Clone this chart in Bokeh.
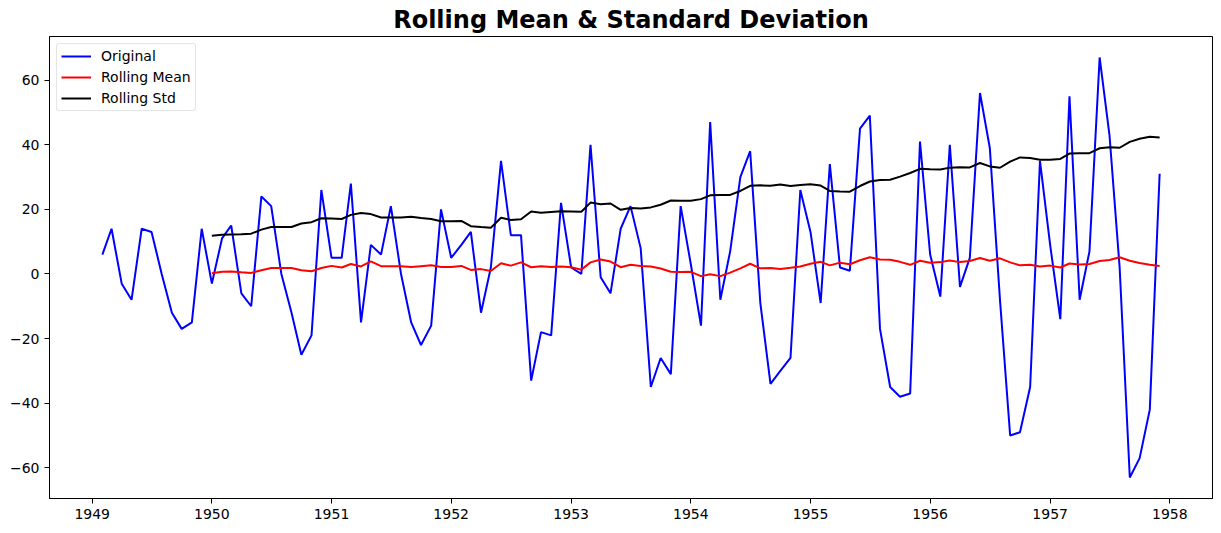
import numpy as np
import pandas as pd
from bokeh.plotting import figure
from bokeh.models import FixedTicker, DatetimeTickFormatter, Range1d, Legend, LegendItem
from bokeh.embed import file_html
from bokeh.resources import INLINE

# First-differenced monthly series, Feb 1949 .. Dec 1957
start_month = "1949-02-01"
original = [
    6, 14, -3, -8, 14, 13, 0, -12, -17, -15, 14,
    -3, 11, 15, -6, -10, 24, 21, 0, -12, -25, -19, 26,
    5, 5, 28, -15, 9, 6, 21, 0, -15, -22, -16, 20,
    5, 9, 13, -12, 2, 35, 12, 12, -33, -18, -19, 22,
    2, 0, 40, -1, -6, 14, 21, 8, -35, -26, -31, 21,
    3, -16, 47, -8, 7, 30, 38, -9, -34, -30, -26, 26,
    13, -9, 34, 2, 1, 45, 49, -17, -35, -38, -37, 41,
    6, -7, 40, -4, 5, 56, 39, -8, -50, -49, -35, 35,
    9, -14, 55, -8, 7, 67, 43, 2, -63, -57, -42, 31,
]
window = 12
year_ticks = list(range(1949, 1959))
y_ticks = [-60, -40, -20, 0, 20, 40, 60]

dates = pd.date_range(start_month, periods=len(original), freq="MS")
s = pd.Series(original, index=dates, dtype=float)
rol_mean = s.rolling(window).mean()
rol_std = s.rolling(window).std()

p = figure(width=1216, height=530, x_axis_type="datetime",
           output_backend="svg", toolbar_location=None,
           title="Rolling Mean & Standard Deviation",
           min_border_left=49, min_border_right=4, min_border_bottom=32, min_border_top=0)

def ms(d):
    return pd.Timestamp(d).value / 1e6

x0, x1 = ms(dates[0]), ms(dates[-1])
pad = (x1 - x0) * 0.05
p.x_range = Range1d(x0 - pad, x1 + pad)
ymin, ymax = min(original), max(original)
ypad = (ymax - ymin) * 0.05
p.y_range = Range1d(ymin - ypad, ymax + ypad)

r1 = p.line(dates, s.values, line_color="blue", line_width=2)
r2 = p.line(dates, rol_mean.values, line_color="red", line_width=2)
r3 = p.line(dates, rol_std.values, line_color="black", line_width=2)

legend = Legend(items=[LegendItem(label="Original", renderers=[r1]),
                       LegendItem(label="Rolling Mean", renderers=[r2]),
                       LegendItem(label="Rolling Std", renderers=[r3])],
                location="top_left")
legend.label_text_font = "DejaVu Sans"
legend.label_text_font_size = "14px"
legend.label_text_color = "black"
legend.border_line_color = "#cccccc"
legend.border_line_width = 1
legend.border_radius = 3
legend.background_fill_alpha = 0.8
legend.glyph_width = 30
legend.glyph_height = 16
legend.label_height = 16
legend.spacing = 5
legend.padding = 4
legend.margin = 7
legend.label_standoff = 10
p.add_layout(legend)

p.title.text_font = "DejaVu Sans"
p.title.text_font_size = "24px"
p.title.text_font_style = "bold"
p.title.text_color = "black"
p.title.align = "center"
p.title.standoff = 6

p.xaxis.ticker = FixedTicker(ticks=[ms(f"{y}-01-01") for y in year_ticks])
fmt = "%Y"
p.xaxis.formatter = DatetimeTickFormatter(years=fmt, months=fmt, days=fmt, hours=fmt,
                                          minutes=fmt, seconds=fmt, milliseconds=fmt,
                                          microseconds=fmt)
p.yaxis.ticker = FixedTicker(ticks=y_ticks)

for ax in (p.xaxis[0], p.yaxis[0]):
    ax.major_label_text_font = "DejaVu Sans"
    ax.major_label_text_font_size = "14px"
    ax.major_label_text_color = "black"
    ax.axis_line_color = "black"
    ax.major_tick_line_color = "black"
    ax.major_tick_out = 5
    ax.major_tick_in = 0
    ax.minor_tick_line_color = None
p.xgrid.grid_line_color = None
p.ygrid.grid_line_color = None
p.outline_line_color = "black"
p.outline_line_alpha = 1.0

open("out.html", "w").write(file_html(p, INLINE))
